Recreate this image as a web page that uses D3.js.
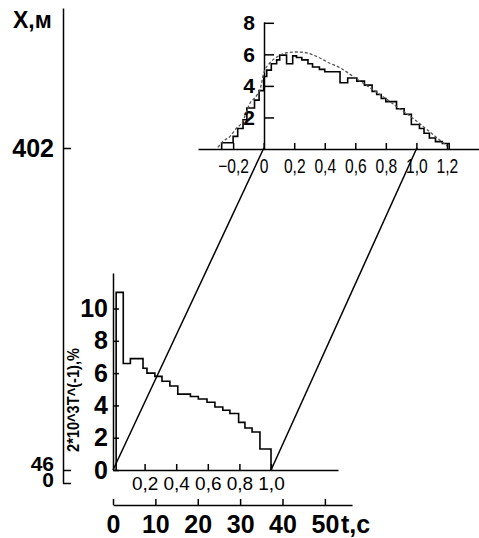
<!DOCTYPE html>
<html>
<head>
<meta charset="utf-8">
<script src="https://cdn.jsdelivr.net/npm/d3@7"></script>
<style>
  body { margin: 0; background: #fff; }
  svg { display: block; }
  .big text, text.big { font-family: "Liberation Sans", Arial, sans-serif; font-weight: bold; font-size: 25px; fill: #000; }
  .small text { font-family: "Liberation Sans Narrow", "Liberation Sans", sans-serif; font-size: 19px; fill: #000; }
  .axis path, .axis line { stroke: #000; stroke-width: 1.5; }
</style>
</head>
<body>
<script>
// lower histogram, x in units of t/T
var lowEdges  = [0.02, 0.065, 0.11, 0.19, 0.215, 0.265, 0.31, 0.36, 0.41, 0.49, 0.54, 0.595, 0.645, 0.695, 0.74, 0.795, 0.835, 0.88, 0.93, 1.0];
var lowValues = [11.0, 6.6, 6.9, 6.3, 6.0, 5.8, 5.5, 5.2, 4.7, 4.55, 4.4, 4.2, 3.9, 3.7, 3.5, 2.95, 2.6, 2.35, 1.3];

// upper histogram (solid) and fitted curve (dashed)
var upEdges  = [-0.275, -0.2, -0.17, -0.135, -0.11, -0.06, -0.03, 0, 0.02, 0.05, 0.085, 0.105, 0.15, 0.19, 0.215, 0.25, 0.29, 0.32, 0.365, 0.4, 0.5, 0.55, 0.61, 0.66, 0.71, 0.74, 0.77, 0.8, 0.87, 0.92, 0.967, 1.02, 1.05, 1.085, 1.125, 1.17, 1.215];
var upValues = [0.4, 0.8, 1.3, 1.85, 2.6, 3.1, 3.7, 4.6, 5.0, 5.4, 5.65, 5.95, 5.4, 5.9, 5.8, 5.65, 5.4, 5.2, 5.05, 4.9, 4.2, 4.5, 4.3, 4.05, 3.65, 3.45, 3.2, 3.0, 2.55, 2.2, 1.55, 1.3, 1.0, 0.7, 0.47, 0.35];
var dashX = [-0.3, -0.27, -0.22, -0.18, -0.14, -0.09, -0.045, -0.02, 0, 0.04, 0.09, 0.15, 0.22, 0.28, 0.35, 0.43, 0.5, 0.6, 0.74, 0.87, 0.97, 1.06, 1.2];
var dashY = [0.1, 0.45, 0.8, 1.3, 1.7, 2.9, 3.4, 3.9, 4.8, 5.45, 5.85, 6.1, 6.15, 6.1, 5.85, 5.45, 5.15, 4.5, 3.6, 2.7, 2.0, 1.3, 0.2];

// trajectories X(t)
var trajT0 = [0, 37.3];
var trajT1 = [35.6, 71.7];
var trajX0 = 46, trajX1 = 402;

var tTicks = [0, 10, 20, 30, 40, 50];
var lowXTicks = [0.2, 0.4, 0.6, 0.8, 1.0];
var lowYTicks = [0, 2, 4, 6, 8, 10];
var upXTicks = [-0.2, 0, 0.2, 0.4, 0.6, 0.8, 1.0, 1.2];
var upYTicks = [2, 4, 6, 8];
var xmTicks = [0, 46, 402];

var W = 479, H = 538;
var svg = d3.select("body").append("svg").attr("width", W).attr("height", H);

var comma = function(d) { return d === 0 ? "0" : d3.format(".1f")(d).replace(".", ","); };

// scales
var yX = d3.scaleLinear().domain([0, 46, 402, 557]).range([483, 470, 148, 8]);
var xT = d3.scaleLinear().domain([0, 56.4]).range([113, 352]);
var xL = d3.scaleLinear().domain([0, 1.424]).range([113, 338]);
var yL = d3.scaleLinear().domain([0, 12.2]).range([470, 273]);
var xU = d3.scaleLinear().domain([-0.43, 1.41]).range([198, 479]);
var yU = d3.scaleLinear().domain([0, 8.05]).range([149, 22]);

// X,m axis (broken: 0..46 squeezed)
var xm = svg.append("g").attr("class", "axis big").attr("transform", "translate(63,0)")
    .call(d3.axisLeft(yX).tickValues(xmTicks).tickSize(-8).tickSizeOuter(0).tickPadding(9));
xm.selectAll("text")
    .style("font-size", function(d) { return d === 402 ? "25px" : "21px"; })
    .attr("dy", function(d) { return d === 46 ? "0em" : d === 0 ? "0.15em" : "0.32em"; });
svg.append("text").attr("class", "big").attr("x", 13).attr("y", 28).style("font-size", "23px").text("X,м");

// t axis
svg.append("g").attr("class", "axis big").attr("transform", "translate(0,505)")
    .call(d3.axisBottom(xT).tickValues(tTicks).tickSize(-6).tickSizeOuter(0).tickPadding(10));
svg.append("text").attr("class", "big").attr("x", 341).attr("y", 533).text("t,c");

// lower chart
svg.append("g").attr("class", "axis small").attr("transform", "translate(0,470)")
    .call(d3.axisBottom(xL).tickValues(lowXTicks).tickSize(-6).tickSizeOuter(0).tickPadding(7).tickFormat(comma));
svg.append("g").attr("class", "axis big").attr("transform", "translate(113,0)")
    .call(d3.axisLeft(yL).tickValues(lowYTicks).tickSize(-6).tickSizeOuter(0).tickPadding(5));
svg.append("text").attr("class", "big")
    .attr("transform", "translate(79,400) rotate(-90)")
    .attr("text-anchor", "middle")
    .attr("textLength", 104).attr("lengthAdjust", "spacingAndGlyphs")
    .style("font-family", "'Liberation Sans Narrow', sans-serif").style("font-size", "16px")
    .text("2*10^3T^(-1),%");

// upper chart
var ux = svg.append("g").attr("class", "axis small").attr("transform", "translate(0,149)")
    .call(d3.axisBottom(xU).tickValues(upXTicks).tickSize(-6).tickSizeOuter(0).tickPadding(10).tickFormat(comma));
ux.selectAll("text").style("font-size", "20px").attr("transform", "scale(0.78,1)");
svg.append("g").attr("class", "axis big").attr("transform", "translate(264,0)")
    .call(d3.axisLeft(yU).tickValues(upYTicks).tickSize(-10).tickSizeOuter(0).tickPadding(9))
  .selectAll("text").style("font-size", "21px");

function stepPoints(edges, values) {
  var pts = [[edges[0], 0]];
  values.forEach(function(v, i) { pts.push([edges[i], v]); });
  pts.push([edges[edges.length - 1], 0]);
  return pts;
}

svg.append("path")
    .attr("d", d3.line().curve(d3.curveStepAfter)
      .x(function(d) { return xL(d[0]); }).y(function(d) { return yL(d[1]); })(stepPoints(lowEdges, lowValues)))
    .attr("fill", "none").attr("stroke", "#000").attr("stroke-width", 1.6);

svg.append("path")
    .attr("d", d3.line().curve(d3.curveStepAfter)
      .x(function(d) { return xU(d[0]); }).y(function(d) { return yU(d[1]); })(stepPoints(upEdges, upValues)))
    .attr("fill", "none").attr("stroke", "#000").attr("stroke-width", 1.6);

svg.append("path")
    .attr("d", d3.line().curve(d3.curveMonotoneX)
      .x(function(d) { return xU(d); }).y(function(d, i) { return yU(dashY[i]); })(dashX))
    .attr("fill", "none").attr("stroke", "#555").attr("stroke-width", 1.3).attr("stroke-dasharray", "3,2");

// trajectories
svg.selectAll(".traj").data(trajT0).enter().append("line")
    .attr("class", "traj")
    .attr("x1", function(d) { return xT(d); }).attr("y1", yX(trajX0))
    .attr("x2", function(d, i) { return xT(trajT1[i]); }).attr("y2", yX(trajX1))
    .attr("stroke", "#000").attr("stroke-width", 1.5);
</script>
</body>
</html>
